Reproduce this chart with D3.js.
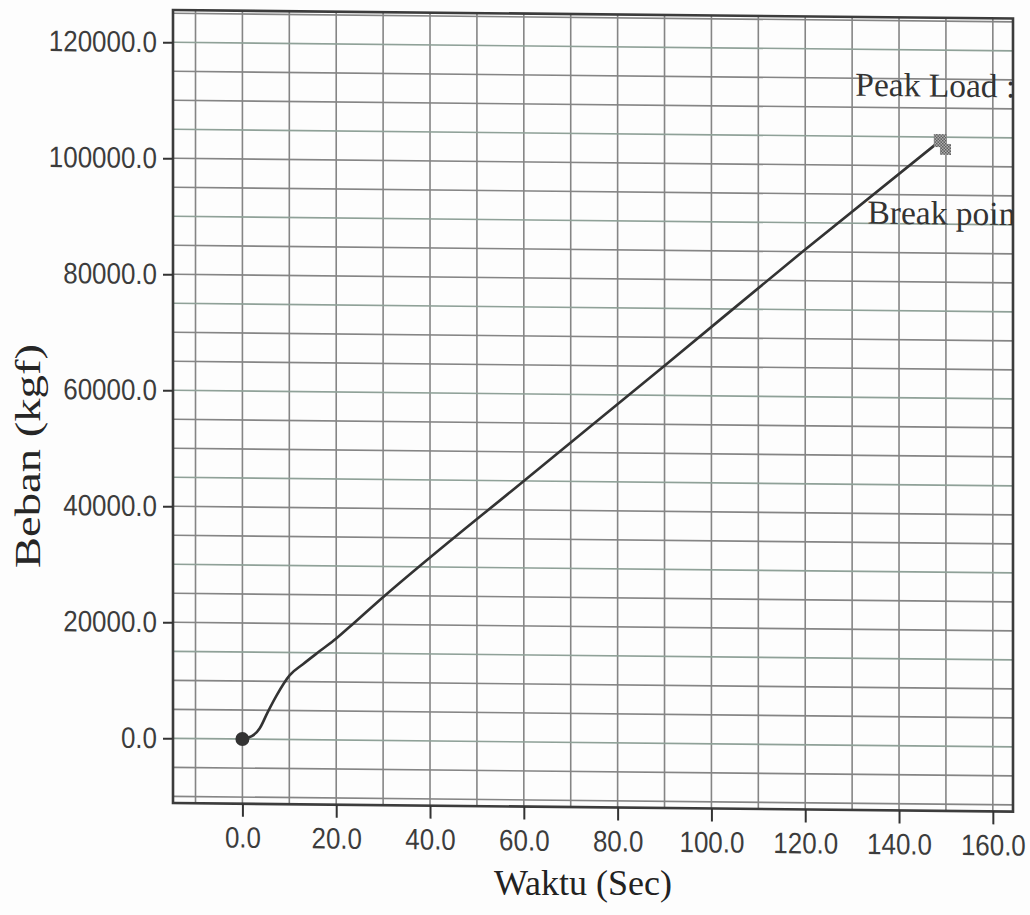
<!DOCTYPE html>
<html>
<head>
<meta charset="utf-8">
<script src="https://cdn.jsdelivr.net/npm/d3@7"></script>
<style>
  html, body { margin: 0; padding: 0; background: #fdfdfd; }
  svg { display: block; }
</style>
</head>
<body>
<svg id="chart" width="1030" height="915"></svg>
<script>
// Load against time for the compression test
const timeSec = [0, 2.0, 3.7, 5.4, 7.3, 10.1, 12.9, 16.5, 20.0, 23.5, 29.3, 60, 90, 120, 148.8];
const loadKgf = [0, 500, 1900, 4700, 7600, 11100, 13000, 15300, 17500, 20000, 24200, 45000, 65100, 85400, 104400];

// Peak and break markers
const markerTimes = [148.8, 149.9];
const markerLoads = [104400, 102900];
const markerLabels = ["Peak Load :", "Break point"];

// Axis ticks
const xTicks = [0, 20, 40, 60, 80, 100, 120, 140, 160];
const yTicks = [0, 20000, 40000, 60000, 80000, 100000, 120000];

const xTitle = "Waktu (Sec)";
const yTitle = "Beban (kgf)";

// ---- layout ----
const plot = { left: 173, top: 10, width: 840, height: 793 };
const skew = 0.0102;   // slight slant of the printed sheet

const svg = d3.select("#chart");

const x = d3.scaleLinear().domain([-14.8, 164.3]).range([plot.left, plot.left + plot.width]);
const y = d3.scaleLinear().domain([-11150, 125570]).range([plot.top + plot.height, plot.top]);

const defs = svg.append("defs");
defs.append("clipPath").attr("id", "plotClip")
  .append("rect")
  .attr("x", plot.left).attr("y", plot.top)
  .attr("width", plot.width).attr("height", plot.height);

const dots = defs.append("pattern").attr("id", "dither")
  .attr("patternUnits", "userSpaceOnUse").attr("width", 3).attr("height", 3);
dots.append("rect").attr("width", 3).attr("height", 3).attr("fill", "#b8b8b8");
dots.append("rect").attr("width", 1.5).attr("height", 1.5).attr("fill", "#555");
dots.append("rect").attr("x", 1.5).attr("y", 1.5).attr("width", 1.5).attr("height", 1.5).attr("fill", "#555");

const g = svg.append("g")
  .attr("transform", `matrix(1,${skew},0,1,0,${-skew * plot.left})`);

// grid
const xGrid = d3.range(-10, 165, 10);
const yGrid = d3.range(-10000, 125001, 5000);

g.append("g").selectAll("line").data(xGrid).join("line")
  .attr("x1", d => x(d)).attr("x2", d => x(d))
  .attr("y1", plot.top).attr("y2", plot.top + plot.height)
  .attr("stroke", "#858585").attr("stroke-width", 1.6);

g.append("g").selectAll("line").data(yGrid).join("line")
  .attr("x1", plot.left).attr("x2", plot.left + plot.width)
  .attr("y1", d => y(d)).attr("y2", d => y(d))
  .attr("stroke", d => d % 15000 === 0 ? "#8fa198" : "#858585")
  .attr("stroke-width", 1.6);

// frame
g.append("rect")
  .attr("x", plot.left).attr("y", plot.top)
  .attr("width", plot.width).attr("height", plot.height)
  .attr("fill", "none").attr("stroke", "#3c3c3c").attr("stroke-width", 2.6);

// axes
const tickFont = "'Liberation Sans', Arial, sans-serif";
const squeeze = 0.88;

const yAxis = g.append("g")
  .attr("transform", `translate(${plot.left},0)`)
  .call(d3.axisLeft(y).tickValues(yTicks).tickSize(10).tickPadding(6)
    .tickFormat(d3.format(".1f")));
yAxis.select(".domain").remove();
yAxis.selectAll(".tick line").attr("stroke", "#333").attr("stroke-width", 2);
yAxis.selectAll(".tick text")
  .attr("font-family", tickFont).attr("font-size", 29.5).attr("fill", "#3c3c3c")
  .attr("transform", `scale(${squeeze},1)`)
  .attr("x", -16 / squeeze);

const xAxis = g.append("g")
  .attr("transform", `translate(0,${plot.top + plot.height})`)
  .call(d3.axisBottom(x).tickValues(xTicks).tickSize(13).tickPadding(10)
    .tickFormat(d3.format(".1f")));
xAxis.select(".domain").remove();
xAxis.selectAll(".tick line").attr("stroke", "#333").attr("stroke-width", 2);
xAxis.selectAll(".tick text")
  .attr("font-family", tickFont).attr("font-size", 29.5).attr("fill", "#3c3c3c")
  .attr("transform", `scale(${squeeze},1)`);

// curve, markers and notes, clipped to the frame
const inner = g.append("g").attr("clip-path", "url(#plotClip)");

const series = timeSec.map((t, i) => [t, loadKgf[i]]);
inner.append("path")
  .datum(series)
  .attr("fill", "none").attr("stroke", "#333").attr("stroke-width", 2.6)
  .attr("stroke-linejoin", "round")
  .attr("d", d3.line().x(d => x(d[0])).y(d => y(d[1])).curve(d3.curveMonotoneX));

inner.append("circle")
  .attr("cx", x(timeSec[0])).attr("cy", y(loadKgf[0])).attr("r", 7)
  .attr("fill", "#333");

const markSize = [13, 11];
inner.selectAll("rect.mark").data(markerTimes).join("rect")
  .attr("class", "mark")
  .attr("x", (d, i) => x(d) - markSize[i] / 2)
  .attr("y", (d, i) => y(markerLoads[i]) - markSize[i] / 2)
  .attr("width", (d, i) => markSize[i]).attr("height", (d, i) => markSize[i])
  .attr("fill", "url(#dither)");

const labelOffset = [[-85, -44], [-78, 75]];
inner.selectAll("text.note").data(markerLabels).join("text")
  .attr("class", "note")
  .attr("x", (d, i) => x(markerTimes[i]) + labelOffset[i][0])
  .attr("y", (d, i) => y(markerLoads[i]) + labelOffset[i][1])
  .attr("font-family", "'Liberation Serif', 'Times New Roman', serif")
  .attr("font-size", 33.5).attr("fill", "#333")
  .text(d => d);

// axis titles
svg.append("text")
  .attr("x", 583).attr("y", 895)
  .attr("text-anchor", "middle")
  .attr("font-family", "'Liberation Serif', 'Times New Roman', serif")
  .attr("font-size", 35).attr("fill", "#222")
  .attr("textLength", 178).attr("lengthAdjust", "spacingAndGlyphs")
  .text(xTitle);

svg.append("text")
  .attr("transform", "translate(40,456) rotate(-90)")
  .attr("text-anchor", "middle")
  .attr("font-family", "'Liberation Serif', 'Times New Roman', serif")
  .attr("font-size", 35).attr("fill", "#262626")
  .attr("textLength", 224).attr("lengthAdjust", "spacingAndGlyphs")
  .text(yTitle);
</script>
</body>
</html>
